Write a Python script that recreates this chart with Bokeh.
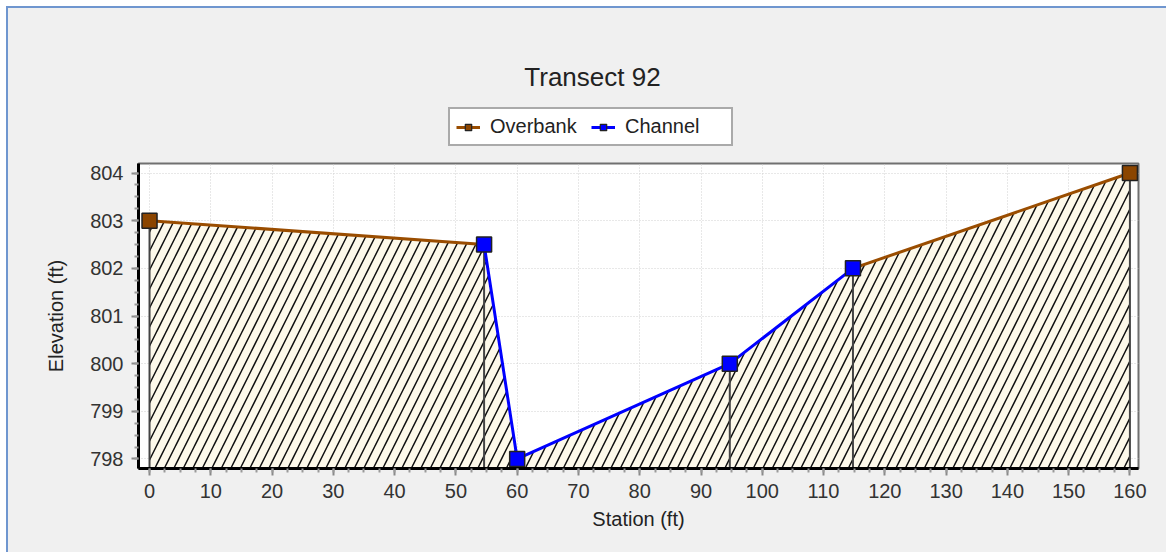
from bokeh.plotting import figure
from bokeh.models import Range1d, SingleIntervalTicker, Legend, LegendItem, Label, Column
from bokeh.embed import file_html
from bokeh.resources import INLINE

# ---- data ----
stations = [0, 54.6, 60, 94.7, 114.8, 160]
elevations = [803, 802.5, 798, 800, 802, 804]
bank_left = 1   # index of left bank station
bank_right = 4  # index of right bank station
x_ticks_step = 10
y_ticks_step = 1
title_text = "Transect 92"
legend_labels = ["Overbank", "Channel"]

x_lo, x_hi = -1.8, 161.4
y_lo, y_hi = 797.8, 804.2

FONT = "Liberation Sans"
BROWN = "#9a4d00"
BROWN_FILL = "#8b4500"
BLUE = "#0000ff"
BG = "#f0f0f0"

W = 1158
HEAD_H = 153
MAIN_H = 391
NAN = float("nan")

# ---------------- header (title + legend) ----------------
# its frame is aligned with the main chart's frame (1000 px wide)
head = figure(width=W, height=HEAD_H, output_backend="svg", toolbar_location=None,
              x_range=Range1d(0, 1000), y_range=Range1d(0, HEAD_H),
              x_axis_type=None, y_axis_type=None,
              min_border_left=0, min_border_right=0, min_border_top=0, min_border_bottom=0)
head.grid.visible = False
head.outline_line_color = None
head.background_fill_color = BG
head.border_fill_color = BG

head.add_layout(Label(x=454, y=85, text=title_text, text_align="center",
                      text_baseline="middle", text_font=FONT,
                      text_font_size="26px", text_color="#222222"))

# legend proxies (same styling as the main glyphs; nothing drawn in the header)
hl_ob = head.line([NAN], [NAN], line_color=BROWN, line_width=3)
hs_ob = head.scatter([NAN], [NAN], marker="square", size=12, fill_color=BROWN_FILL,
                     line_color="#222222", line_width=1.2)
hl_ch = head.line([NAN], [NAN], line_color=BLUE, line_width=3)
hs_ch = head.scatter([NAN], [NAN], marker="square", size=12, fill_color=BLUE,
                     line_color="#222222", line_width=1.2)

legend = Legend(items=[LegendItem(label=legend_labels[0], renderers=[hl_ob, hs_ob]),
                       LegendItem(label=legend_labels[1], renderers=[hl_ch, hs_ch])],
                orientation="horizontal", location=(310, 15))
legend.label_text_font = FONT
legend.label_text_font_size = "20px"
legend.label_text_color = "#222222"
legend.label_standoff = 10
legend.label_width = 100
legend.border_line_color = "#555555"
legend.border_line_width = 2
legend.background_fill_color = "white"
legend.background_fill_alpha = 1
legend.glyph_width = 24
legend.glyph_height = 16
legend.spacing = 1
legend.padding = 6
legend.margin = 0
head.add_layout(legend)

# ---------------- main chart ----------------
p = figure(width=W, height=MAIN_H, output_backend="svg", toolbar_location=None,
           x_range=Range1d(x_lo, x_hi), y_range=Range1d(y_lo, y_hi),
           min_border_left=130, min_border_right=28, min_border_bottom=84,
           min_border_top=2)

p.border_fill_color = BG
p.background_fill_color = "white"
p.outline_line_color = "#707070"
p.outline_line_width = 2

# hatched ground area
p.varea(x=stations, y1=[y_lo] * len(stations), y2=elevations,
        fill_color="#fdf9ea", hatch_pattern="/", hatch_scale=19,
        hatch_weight=1.5, hatch_color="#111111")

# vertical station lines
p.segment(x0=stations, y0=[y_lo] * len(stations), x1=stations, y1=elevations,
          line_color="#444444", line_width=2)

# overbank lines
p.multi_line(xs=[stations[:bank_left + 1], stations[bank_right:]],
             ys=[elevations[:bank_left + 1], elevations[bank_right:]],
             line_color=BROWN, line_width=3)
p.line(stations[bank_left:bank_right + 1], elevations[bank_left:bank_right + 1],
       line_color=BLUE, line_width=3)

ob_x = [stations[0], stations[-1]]
ob_y = [elevations[0], elevations[-1]]
ch_x = stations[bank_left:bank_right + 1]
ch_y = elevations[bank_left:bank_right + 1]
p.scatter(ob_x, ob_y, marker="square", size=15, fill_color=BROWN_FILL,
          line_color="#222222", line_width=1.5)
p.scatter(ch_x, ch_y, marker="square", size=15, fill_color=BLUE,
          line_color="#222222", line_width=1.5)

# axes
p.xaxis.ticker = SingleIntervalTicker(interval=x_ticks_step, num_minor_ticks=4)
p.yaxis.ticker = SingleIntervalTicker(interval=y_ticks_step, num_minor_ticks=4)
for ax in (p.xaxis, p.yaxis):
    ax.axis_line_color = "black"
    ax.axis_line_width = 3
    ax.major_tick_line_color = "#8a8a8a"
    ax.minor_tick_line_color = "#9a9a9a"
    ax.major_tick_line_width = 2
    ax.minor_tick_line_width = 2
    ax.major_tick_out = 7
    ax.major_tick_in = 0
    ax.minor_tick_out = 4
    ax.minor_tick_in = 0
    ax.major_label_text_font = FONT
    ax.major_label_text_font_size = "20px"
    ax.major_label_text_color = "#333333"
    ax.axis_label_text_font = FONT
    ax.axis_label_text_font_size = "20px"
    ax.axis_label_text_font_style = "normal"
    ax.axis_label_text_color = "#222222"
p.xaxis.axis_label = "Station (ft)"
p.yaxis.axis_label = "Elevation (ft)"
p.xaxis.axis_label_standoff = 7
p.yaxis.axis_label_standoff = 20
p.yaxis.major_label_standoff = 8
p.xaxis.major_label_standoff = 8

p.grid.grid_line_color = "#d0d0d0"
p.grid.grid_line_dash = "1 2"
p.grid.grid_line_width = 1

layout = Column(head, p, spacing=0, margin=(6, 0, 0, 6),
                styles={"border-left": "2px solid #6f96cf",
                        "border-top": "2px solid #6f96cf",
                        "background-color": BG})

open("out.html", "w").write(file_html(layout, INLINE))
